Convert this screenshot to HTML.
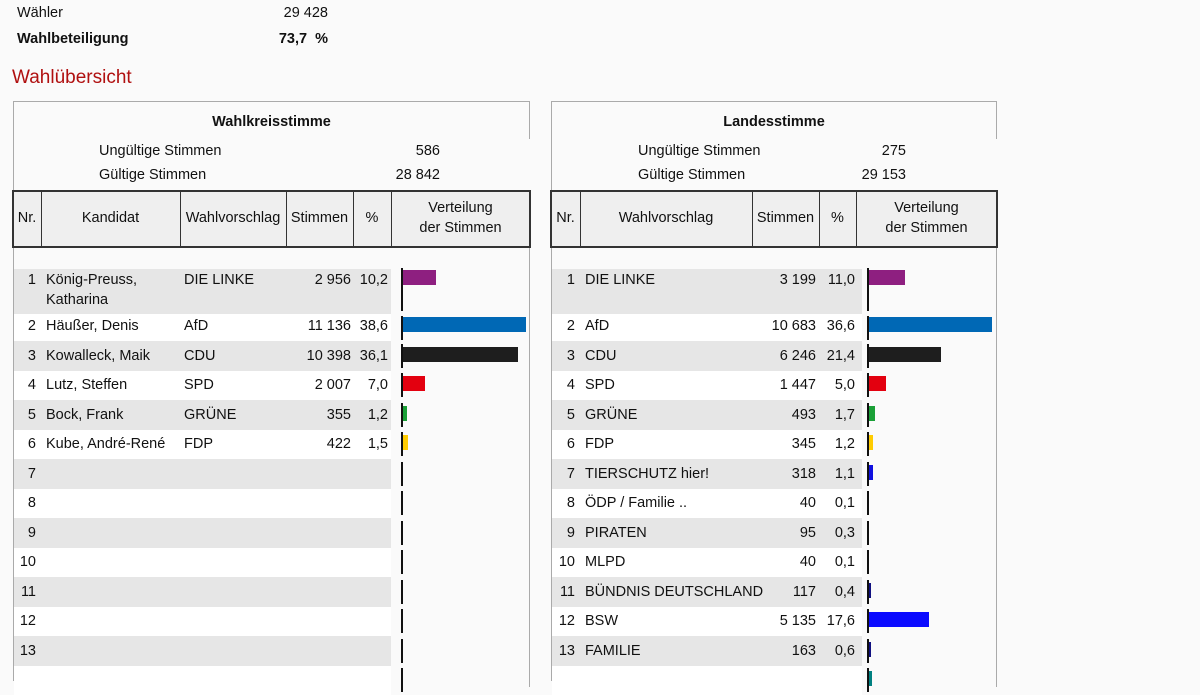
<!DOCTYPE html>
<html><head><meta charset="utf-8"><style>
body{margin:0;width:1200px;height:675px;overflow:hidden;background:#fafafa;font-family:"Liberation Sans",sans-serif;color:#111;position:relative}
div{position:absolute;box-sizing:border-box}
.t{white-space:nowrap;font-size:14.5px;line-height:20px}
.r{text-align:right;width:120px}
.c{text-align:center}
.g{background:#e6e6e6}
.w{background:#fff}
.ax{background:#111;width:2px}
.hd{background:#efefef;border:2px solid #333;height:58px;top:190px}
.vl{background:#333;width:1px;top:190px;height:58px}
</style></head><body>
<div class="t" style="left:17px;top:3px">Wähler</div>
<div class="t r" style="left:208px;top:3px">29 428</div>
<div class="t" style="left:17px;top:29px;font-weight:bold">Wahlbeteiligung</div>
<div class="t r" style="left:208px;top:29px;font-weight:bold">73,7 &nbsp;%</div>
<div class="t" style="left:12px;top:66px;font-size:19px;line-height:24px;color:#b01010">Wahlübersicht</div>

<!-- LEFT frame -->
<div style="left:13px;top:101px;width:517px;height:1px;background:#aaa"></div>
<div style="left:13px;top:101px;width:1px;height:580px;background:#aaa"></div>
<div style="left:529px;top:101px;width:1px;height:38px;background:#aaa"></div>
<div style="left:529px;top:247px;width:1px;height:440px;background:#aaa"></div>
<div class="t c" style="left:13px;width:517px;top:112px;font-weight:bold">Wahlkreisstimme</div>
<div class="t" style="left:99px;top:141px">Ungültige Stimmen</div>
<div class="t r" style="left:320px;top:141px">586</div>
<div class="t" style="left:99px;top:165px">Gültige Stimmen</div>
<div class="t r" style="left:320px;top:165px">28 842</div>
<div class="hd" style="left:12px;width:519px"></div>
<div class="vl" style="left:41px"></div><div class="vl" style="left:180px"></div><div class="vl" style="left:286px"></div><div class="vl" style="left:353px"></div><div class="vl" style="left:391px"></div>
<div class="t c" style="left:13px;width:28px;top:208px">Nr.</div>
<div class="t c" style="left:41px;width:139px;top:208px">Kandidat</div>
<div class="t c" style="left:180px;width:106px;top:208px">Wahlvorschlag</div>
<div class="t c" style="left:286px;width:67px;top:208px">Stimmen</div>
<div class="t c" style="left:353px;width:38px;top:208px">%</div>
<div class="t c" style="left:391px;width:139px;top:198px">Verteilung<br>der Stimmen</div>

<!-- left bands -->
<div class="g" style="left:14px;width:377px;top:269px;height:45px"></div>
<div class="w" style="left:14px;width:377px;top:314px;height:27px"></div>
<div class="g" style="left:14px;width:377px;top:341px;height:29.5px"></div>
<div class="w" style="left:14px;width:377px;top:370.5px;height:29.5px"></div>
<div class="g" style="left:14px;width:377px;top:400px;height:29.5px"></div>
<div class="w" style="left:14px;width:377px;top:429.5px;height:29.5px"></div>
<div class="g" style="left:14px;width:377px;top:459px;height:29.5px"></div>
<div class="w" style="left:14px;width:377px;top:488.5px;height:29.5px"></div>
<div class="g" style="left:14px;width:377px;top:518px;height:29.5px"></div>
<div class="w" style="left:14px;width:377px;top:547.5px;height:29.5px"></div>
<div class="g" style="left:14px;width:377px;top:577px;height:29.5px"></div>
<div class="w" style="left:14px;width:377px;top:606.5px;height:29.5px"></div>
<div class="g" style="left:14px;width:377px;top:636px;height:29.5px"></div>
<div class="w" style="left:14px;width:377px;top:665.5px;height:29.5px"></div>

<!-- right frame -->
<div style="left:551px;top:101px;width:446px;height:1px;background:#aaa"></div>
<div style="left:551px;top:101px;width:1px;height:580px;background:#aaa"></div>
<div style="left:996px;top:101px;width:1px;height:38px;background:#aaa"></div>
<div style="left:996px;top:247px;width:1px;height:440px;background:#aaa"></div>
<div class="t c" style="left:551px;width:446px;top:112px;font-weight:bold">Landesstimme</div>
<div class="t" style="left:638px;top:141px">Ungültige Stimmen</div>
<div class="t r" style="left:786px;top:141px">275</div>
<div class="t" style="left:638px;top:165px">Gültige Stimmen</div>
<div class="t r" style="left:786px;top:165px">29 153</div>
<div class="hd" style="left:550px;width:448px"></div>
<div class="vl" style="left:580px"></div><div class="vl" style="left:752px"></div><div class="vl" style="left:819px"></div><div class="vl" style="left:856px"></div>
<div class="t c" style="left:551px;width:29px;top:208px">Nr.</div>
<div class="t c" style="left:580px;width:172px;top:208px">Wahlvorschlag</div>
<div class="t c" style="left:752px;width:67px;top:208px">Stimmen</div>
<div class="t c" style="left:819px;width:37px;top:208px">%</div>
<div class="t c" style="left:856px;width:141px;top:198px">Verteilung<br>der Stimmen</div>

<div class="g" style="left:552px;width:310px;top:269px;height:45px"></div>
<div class="w" style="left:552px;width:310px;top:314px;height:27px"></div>
<div class="g" style="left:552px;width:310px;top:341px;height:29.5px"></div>
<div class="w" style="left:552px;width:310px;top:370.5px;height:29.5px"></div>
<div class="g" style="left:552px;width:310px;top:400px;height:29.5px"></div>
<div class="w" style="left:552px;width:310px;top:429.5px;height:29.5px"></div>
<div class="g" style="left:552px;width:310px;top:459px;height:29.5px"></div>
<div class="w" style="left:552px;width:310px;top:488.5px;height:29.5px"></div>
<div class="g" style="left:552px;width:310px;top:518px;height:29.5px"></div>
<div class="w" style="left:552px;width:310px;top:547.5px;height:29.5px"></div>
<div class="g" style="left:552px;width:310px;top:577px;height:29.5px"></div>
<div class="w" style="left:552px;width:310px;top:606.5px;height:29.5px"></div>
<div class="g" style="left:552px;width:310px;top:636px;height:29.5px"></div>
<div class="w" style="left:552px;width:310px;top:665.5px;height:29.5px"></div>

<!-- axes -->
<div class="ax" style="left:401px;top:268px;height:43px"></div>
<div class="ax" style="left:867px;top:268px;height:43px"></div>
<div class="ax" style="left:401px;top:316px;height:24px"></div><div class="ax" style="left:867px;top:316px;height:24px"></div>
<div class="ax" style="left:401px;top:344px;height:24px"></div><div class="ax" style="left:867px;top:344px;height:24px"></div>
<div class="ax" style="left:401px;top:373px;height:24px"></div><div class="ax" style="left:867px;top:373px;height:24px"></div>
<div class="ax" style="left:401px;top:403px;height:24px"></div><div class="ax" style="left:867px;top:403px;height:24px"></div>
<div class="ax" style="left:401px;top:432px;height:24px"></div><div class="ax" style="left:867px;top:432px;height:24px"></div>
<div class="ax" style="left:401px;top:462px;height:24px"></div><div class="ax" style="left:867px;top:462px;height:24px"></div>
<div class="ax" style="left:401px;top:491px;height:24px"></div><div class="ax" style="left:867px;top:491px;height:24px"></div>
<div class="ax" style="left:401px;top:521px;height:24px"></div><div class="ax" style="left:867px;top:521px;height:24px"></div>
<div class="ax" style="left:401px;top:550px;height:24px"></div><div class="ax" style="left:867px;top:550px;height:24px"></div>
<div class="ax" style="left:401px;top:580px;height:24px"></div><div class="ax" style="left:867px;top:580px;height:24px"></div>
<div class="ax" style="left:401px;top:609px;height:24px"></div><div class="ax" style="left:867px;top:609px;height:24px"></div>
<div class="ax" style="left:401px;top:639px;height:24px"></div><div class="ax" style="left:867px;top:639px;height:24px"></div>
<div class="ax" style="left:401px;top:668px;height:24px"></div><div class="ax" style="left:867px;top:668px;height:24px"></div>

<!-- left bars -->
<div style="left:403px;top:270px;width:33px;height:15px;background:#8e1f80"></div>
<div style="left:403px;top:317px;width:123px;height:15px;background:#0068b5"></div>
<div style="left:403px;top:347px;width:115px;height:15px;background:#1e1e1e"></div>
<div style="left:403px;top:376px;width:22px;height:15px;background:#e3000f"></div>
<div style="left:403px;top:406px;width:4px;height:15px;background:#1aa037"></div>
<div style="left:403px;top:435px;width:5px;height:15px;background:#ffcc00"></div>
<!-- right bars -->
<div style="left:869px;top:270px;width:36px;height:15px;background:#8e1f80"></div>
<div style="left:869px;top:317px;width:123px;height:15px;background:#0068b5"></div>
<div style="left:869px;top:347px;width:72px;height:15px;background:#1e1e1e"></div>
<div style="left:869px;top:376px;width:17px;height:15px;background:#e3000f"></div>
<div style="left:869px;top:406px;width:6px;height:15px;background:#1aa037"></div>
<div style="left:869px;top:435px;width:4px;height:15px;background:#ffcc00"></div>
<div style="left:869px;top:465px;width:4px;height:15px;background:#1010e0"></div>
<div style="left:869px;top:583px;width:2px;height:15px;background:#101080"></div>
<div style="left:869px;top:612px;width:60px;height:15px;background:#0a0aff"></div>
<div style="left:869px;top:642px;width:2px;height:15px;background:#101080"></div>
<div style="left:869px;top:671px;width:3px;height:15px;background:#008080"></div>

<!-- left texts -->
<div class="t r" style="left:-84px;top:270px">1</div>
<div class="t" style="left:46px;top:270px">König-Preuss,<br>Katharina</div>
<div class="t" style="left:184px;top:270px">DIE LINKE</div>
<div class="t r" style="left:231px;top:270px">2 956</div>
<div class="t r" style="left:268px;top:270px">10,2</div>

<div class="t r" style="left:-84px;top:316px">2</div><div class="t" style="left:46px;top:316px">Häußer, Denis</div><div class="t" style="left:184px;top:316px">AfD</div><div class="t r" style="left:231px;top:316px">11 136</div><div class="t r" style="left:268px;top:316px">38,6</div>
<div class="t r" style="left:-84px;top:345.5px">3</div><div class="t" style="left:46px;top:345.5px">Kowalleck, Maik</div><div class="t" style="left:184px;top:345.5px">CDU</div><div class="t r" style="left:231px;top:345.5px">10 398</div><div class="t r" style="left:268px;top:345.5px">36,1</div>
<div class="t r" style="left:-84px;top:375px">4</div><div class="t" style="left:46px;top:375px">Lutz, Steffen</div><div class="t" style="left:184px;top:375px">SPD</div><div class="t r" style="left:231px;top:375px">2 007</div><div class="t r" style="left:268px;top:375px">7,0</div>
<div class="t r" style="left:-84px;top:404.5px">5</div><div class="t" style="left:46px;top:404.5px">Bock, Frank</div><div class="t" style="left:184px;top:404.5px">GRÜNE</div><div class="t r" style="left:231px;top:404.5px">355</div><div class="t r" style="left:268px;top:404.5px">1,2</div>
<div class="t r" style="left:-84px;top:434px">6</div><div class="t" style="left:46px;top:434px">Kube, André-René</div><div class="t" style="left:184px;top:434px">FDP</div><div class="t r" style="left:231px;top:434px">422</div><div class="t r" style="left:268px;top:434px">1,5</div>
<div class="t r" style="left:-84px;top:463.5px">7</div>
<div class="t r" style="left:-84px;top:493px">8</div>
<div class="t r" style="left:-84px;top:522.5px">9</div>
<div class="t r" style="left:-84px;top:552px">10</div>
<div class="t r" style="left:-84px;top:581.5px">11</div>
<div class="t r" style="left:-84px;top:611px">12</div>
<div class="t r" style="left:-84px;top:640.5px">13</div>

<!-- right texts -->
<div class="t r" style="left:455px;top:270px">1</div><div class="t" style="left:585px;top:270px">DIE LINKE</div><div class="t r" style="left:696px;top:270px">3 199</div><div class="t r" style="left:735px;top:270px">11,0</div>
<div class="t r" style="left:455px;top:316px">2</div><div class="t" style="left:585px;top:316px">AfD</div><div class="t r" style="left:696px;top:316px">10 683</div><div class="t r" style="left:735px;top:316px">36,6</div>
<div class="t r" style="left:455px;top:345.5px">3</div><div class="t" style="left:585px;top:345.5px">CDU</div><div class="t r" style="left:696px;top:345.5px">6 246</div><div class="t r" style="left:735px;top:345.5px">21,4</div>
<div class="t r" style="left:455px;top:375px">4</div><div class="t" style="left:585px;top:375px">SPD</div><div class="t r" style="left:696px;top:375px">1 447</div><div class="t r" style="left:735px;top:375px">5,0</div>
<div class="t r" style="left:455px;top:404.5px">5</div><div class="t" style="left:585px;top:404.5px">GRÜNE</div><div class="t r" style="left:696px;top:404.5px">493</div><div class="t r" style="left:735px;top:404.5px">1,7</div>
<div class="t r" style="left:455px;top:434px">6</div><div class="t" style="left:585px;top:434px">FDP</div><div class="t r" style="left:696px;top:434px">345</div><div class="t r" style="left:735px;top:434px">1,2</div>
<div class="t r" style="left:455px;top:463.5px">7</div><div class="t" style="left:585px;top:463.5px">TIERSCHUTZ hier!</div><div class="t r" style="left:696px;top:463.5px">318</div><div class="t r" style="left:735px;top:463.5px">1,1</div>
<div class="t r" style="left:455px;top:493px">8</div><div class="t" style="left:585px;top:493px">ÖDP / Familie ..</div><div class="t r" style="left:696px;top:493px">40</div><div class="t r" style="left:735px;top:493px">0,1</div>
<div class="t r" style="left:455px;top:522.5px">9</div><div class="t" style="left:585px;top:522.5px">PIRATEN</div><div class="t r" style="left:696px;top:522.5px">95</div><div class="t r" style="left:735px;top:522.5px">0,3</div>
<div class="t r" style="left:455px;top:552px">10</div><div class="t" style="left:585px;top:552px">MLPD</div><div class="t r" style="left:696px;top:552px">40</div><div class="t r" style="left:735px;top:552px">0,1</div>
<div class="t r" style="left:455px;top:581.5px">11</div><div class="t" style="left:585px;top:581.5px">BÜNDNIS DEUTSCHLAND</div><div class="t r" style="left:696px;top:581.5px">117</div><div class="t r" style="left:735px;top:581.5px">0,4</div>
<div class="t r" style="left:455px;top:611px">12</div><div class="t" style="left:585px;top:611px">BSW</div><div class="t r" style="left:696px;top:611px">5 135</div><div class="t r" style="left:735px;top:611px">17,6</div>
<div class="t r" style="left:455px;top:640.5px">13</div><div class="t" style="left:585px;top:640.5px">FAMILIE</div><div class="t r" style="left:696px;top:640.5px">163</div><div class="t r" style="left:735px;top:640.5px">0,6</div>
</body></html>
